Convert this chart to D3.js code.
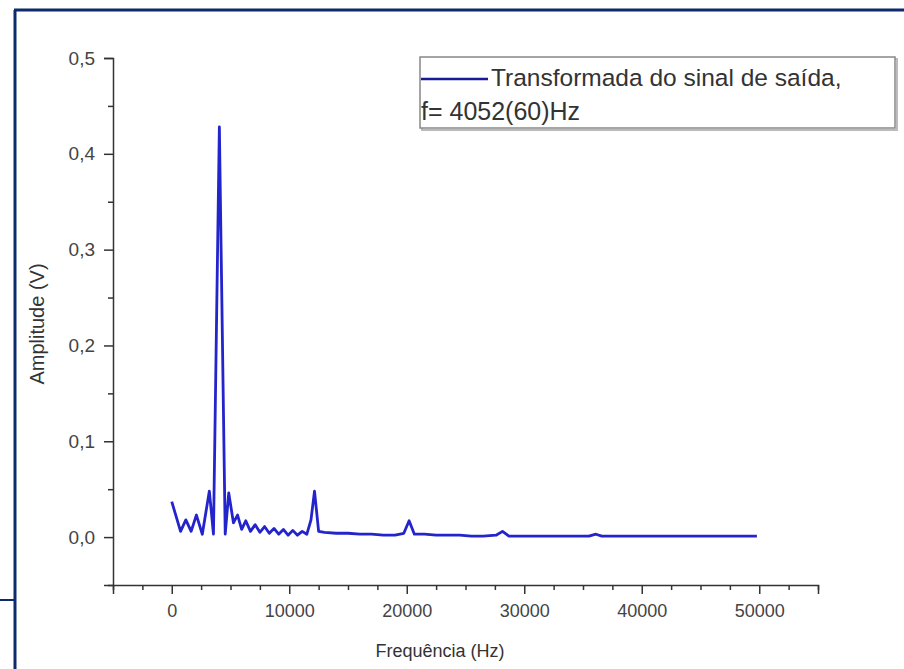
<!DOCTYPE html>
<html>
<head>
<meta charset="utf-8">
<script src="https://cdn.jsdelivr.net/npm/d3@7"></script>
<style>
  html, body { margin: 0; padding: 0; background: #fff; }
  svg { display: block; font-family: Arial, "Liberation Sans", sans-serif; }
</style>
</head>
<body>
<svg id="chart" width="904" height="669"></svg>
<script>
// Spectrum of the output signal: frequency (Hz) and amplitude (V)
const freqHz = [
  0, 750, 1200, 1650, 2100, 2600, 3200, 3550, 4052, 4550, 4850,
  5250, 5600, 5950, 6300, 6700, 7100, 7500, 7900, 8300, 8700, 9100, 9500,
  9900, 10300, 10700, 11100, 11500, 11850, 12150, 12500, 13000, 14000, 15000,
  16000, 17000, 18000, 19000, 19750, 20200, 20650, 21500, 22500, 23500, 24500,
  25500, 26500, 27600, 28150, 28700, 30000, 32000, 34000, 35500, 36100, 36600,
  38000, 40000, 42000, 44000, 46000, 48000, 49800
];
const amplitudeV = [
  0.037, 0.006, 0.018, 0.006, 0.023, 0.003, 0.048, 0.003, 0.428, 0.003, 0.046,
  0.015, 0.023, 0.008, 0.017, 0.006, 0.013, 0.005, 0.011, 0.004, 0.009, 0.003, 0.008,
  0.002, 0.007, 0.002, 0.006, 0.003, 0.018, 0.048, 0.006, 0.005, 0.004, 0.004,
  0.003, 0.003, 0.002, 0.002, 0.004, 0.017, 0.003, 0.003, 0.002, 0.002, 0.002,
  0.001, 0.001, 0.002, 0.006, 0.001, 0.001, 0.001, 0.001, 0.001, 0.003, 0.001,
  0.001, 0.001, 0.001, 0.001, 0.001, 0.001, 0.001
];

const xMajorTicks = [0, 10000, 20000, 30000, 40000, 50000];
const yMajorTicks = [0.0, 0.1, 0.2, 0.3, 0.4, 0.5];
const xTitle = "Frequência (Hz)";
const yTitle = "Amplitude (V)";
const legendLines = ["Transformada do sinal de saída,", "f= 4052(60)Hz"];

const svg = d3.select("#chart");
const ink = "#333";
const lineColor = "#2424cc";

// Page frame
const frame = svg.append("g").attr("stroke", "#0c2a6c").attr("fill", "none");
frame.append("line").attr("x1", 14).attr("x2", 904).attr("y1", 10).attr("y2", 10).attr("stroke-width", 3);
frame.append("line").attr("x1", 15).attr("x2", 15).attr("y1", 10).attr("y2", 669).attr("stroke-width", 3);
frame.append("line").attr("x1", 0).attr("x2", 15).attr("y1", 600).attr("y2", 600).attr("stroke-width", 2);

const x = d3.scaleLinear().domain([-5000, 55000]).range([113, 818]);
const y = d3.scaleLinear().domain([-0.05, 0.5]).range([585, 58]);

const fmtY = v => d3.format(".1f")(v).replace(".", ",");

// Bottom axis: majors with labels, minors every 2500 Hz
const xMinor = d3.range(-5000, 55001, 2500).filter(v => !xMajorTicks.includes(v));
const gx = svg.append("g").attr("transform", `translate(0,${y.range()[0]})`);
gx.call(d3.axisBottom(x).tickValues(xMajorTicks).tickSize(9).tickPadding(10).tickFormat(d3.format("d")));
gx.append("g").call(d3.axisBottom(x).tickValues(xMinor).tickSize(5).tickFormat(""))
  .select(".domain").remove();
gx.selectAll("line, path").attr("stroke", ink).attr("stroke-width", 1.5);
gx.selectAll("text").attr("fill", "#444").attr("font-size", 18);

// Left axis: majors with labels, minors every 0.05
const yMinor = d3.range(-0.05, 0.5, 0.1).map(v => +v.toFixed(2));
const gy = svg.append("g").attr("transform", `translate(${x.range()[0]},0)`);
gy.call(d3.axisLeft(y).tickValues(yMajorTicks).tickSize(9).tickPadding(9).tickFormat(fmtY));
gy.append("g").call(d3.axisLeft(y).tickValues(yMinor).tickSize(5).tickFormat(""))
  .select(".domain").remove();
gy.selectAll("line, path").attr("stroke", ink).attr("stroke-width", 1.5);
gy.selectAll("text").attr("fill", "#444").attr("font-size", 19);

// Axis titles
svg.append("text").attr("x", 440).attr("y", 657).attr("text-anchor", "middle")
  .attr("font-size", 18).attr("fill", "#333").text(xTitle);
svg.append("text").attr("transform", "translate(44,324) rotate(-90)").attr("text-anchor", "middle")
  .attr("font-size", 20).attr("fill", "#333").text(yTitle);

// Spectrum trace
const pts = freqHz.map((f, i) => [f, amplitudeV[i]]);
svg.append("path").datum(pts)
  .attr("fill", "none").attr("stroke", lineColor).attr("stroke-width", 2.8)
  .attr("stroke-linejoin", "round")
  .attr("d", d3.line().x(d => x(d[0])).y(d => y(d[1])));

// Legend
const lg = svg.append("g");
lg.append("rect").attr("x", 422).attr("y", 59).attr("width", 475).attr("height", 71)
  .attr("fill", "none").attr("stroke", "#bbb").attr("stroke-width", 2);
lg.append("rect").attr("x", 420).attr("y", 57).attr("width", 475).attr("height", 71)
  .attr("fill", "#fff").attr("stroke", "#888").attr("stroke-width", 1.5);
lg.append("line").attr("x1", 421).attr("x2", 488).attr("y1", 79).attr("y2", 79)
  .attr("stroke", "#1a1a99").attr("stroke-width", 2.4);
lg.append("text").attr("x", 491).attr("y", 86).attr("font-size", 24.5).attr("fill", "#333").text(legendLines[0]);
lg.append("text").attr("x", 421).attr("y", 120).attr("font-size", 25).attr("fill", "#333").text(legendLines[1]);
</script>
</body>
</html>
